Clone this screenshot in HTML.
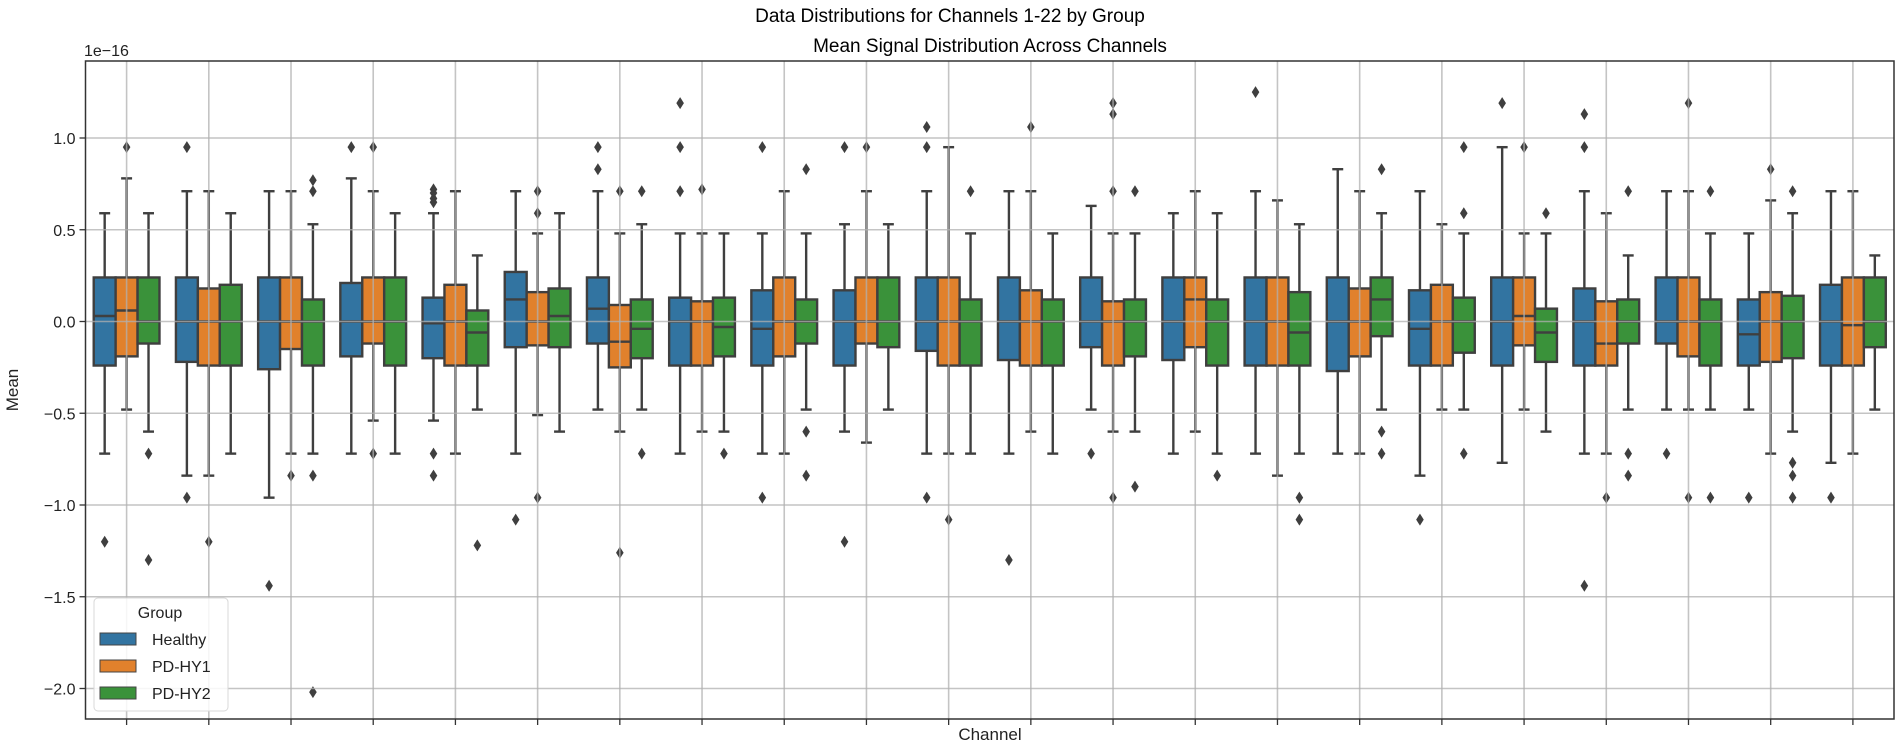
<!DOCTYPE html>
<html><head><meta charset="utf-8"><style>
body{margin:0;background:#fff;}
svg{display:block;font-family:"Liberation Sans","DejaVu Sans",sans-serif;}
</style></head><body>
<svg id="chart" width="1902" height="745" viewBox="0 0 1902 745">
<text x="950" y="22" text-anchor="middle" font-size="19" fill="#000">Data Distributions for Channels 1-22 by Group</text>
<text x="990" y="52" text-anchor="middle" font-size="19" fill="#000">Mean Signal Distribution Across Channels</text>
<text x="84" y="56" font-size="16" fill="#222">1e−16</text>
<text x="990" y="740" text-anchor="middle" font-size="17" fill="#222">Channel</text>
<text transform="translate(18,390) rotate(-90)" text-anchor="middle" font-size="17" fill="#222">Mean</text>
<g id="plot"></g>
</svg>
<script>
const channels=["1","2","3","4","5","6","7","8","9","10","11","12","13","14","15","16","17","18","19","20","21","22"];
const groups=["Healthy","PD-HY1","PD-HY2"];
const yTicks=[1.0,0.5,0.0,-0.5,-1.0,-1.5,-2.0];
const yTickLabels=["1.0","0.5","0.0","−0.5","−1.0","−1.5","−2.0"];

const healthyLo=[-.72,-.84,-.96,-.72,-.54,-.72,-.48,-.72,-.72,-.6,-.72,-.72,-.48,-.72,-.72,-.72,-.84,-.77,-.72,-.48,-.48,-.77];
const healthyQ1=[-.24,-.22,-.26,-.19,-.2,-.14,-.12,-.24,-.24,-.24,-.16,-.21,-.14,-.21,-.24,-.27,-.24,-.24,-.24,-.12,-.24,-.24];
const healthyMed=[.03,0,0,0,-.01,.12,.07,0,-.04,0,0,0,0,0,0,0,-.04,0,0,0,-.07,0];
const healthyQ3=[.24,.24,.24,.21,.13,.27,.24,.13,.17,.17,.24,.24,.24,.24,.24,.24,.17,.24,.18,.24,.12,.2];
const healthyHi=[.59,.71,.71,.78,.59,.71,.71,.48,.48,.53,.71,.71,.63,.59,.71,.83,.71,.95,.71,.71,.48,.71];
const healthyOut=[[-1.2],[.95,-.96],[-1.44],[.95],[.72,.70,.67,.65,-.72,-.84],[-1.08],[.95,.83],[1.19,.95,.71],[.95,-.96],[.95,-1.2],[1.06,.95,-.96],[-1.3],[-.72],[],[1.25],[],[-1.08],[1.19],[1.13,.95,-1.44],[-.72],[-.96],[-.96]];

const hy1Lo=[-.48,-.84,-.72,-.54,-.72,-.51,-.6,-.6,-.72,-.66,-.72,-.6,-.6,-.6,-.84,-.72,-.48,-.48,-.72,-.48,-.72,-.72];
const hy1Q1=[-.19,-.24,-.15,-.12,-.24,-.13,-.25,-.24,-.19,-.12,-.24,-.24,-.24,-.14,-.24,-.19,-.24,-.13,-.24,-.19,-.22,-.24];
const hy1Med=[.06,0,0,0,0,0,-.11,0,0,0,0,0,0,.12,0,0,0,.03,-.12,0,0,-.02];
const hy1Q3=[.24,.18,.24,.24,.2,.16,.09,.11,.24,.24,.24,.17,.11,.24,.24,.18,.2,.24,.11,.24,.16,.24];
const hy1Hi=[.78,.71,.71,.71,.71,.48,.48,.48,.71,.71,.95,.71,.48,.71,.66,.71,.53,.48,.59,.71,.66,.71];
const hy1Out=[[.95],[-1.2],[-.84],[.95,-.72],[],[.71,.59,-.96],[.71,-1.26],[.72],[],[.95],[-1.08],[1.06],[1.19,1.13,.71,-.96],[],[],[],[],[.95],[-.96],[1.19,-.96],[.83],[]];

const hy2Lo=[-.6,-.72,-.72,-.72,-.48,-.6,-.48,-.6,-.48,-.48,-.72,-.72,-.6,-.72,-.72,-.48,-.48,-.6,-.48,-.48,-.6,-.48];
const hy2Q1=[-.12,-.24,-.24,-.24,-.24,-.14,-.2,-.19,-.12,-.14,-.24,-.24,-.19,-.24,-.24,-.08,-.17,-.22,-.12,-.24,-.2,-.14];
const hy2Med=[0,0,0,0,-.06,.03,-.04,-.03,0,0,0,0,0,0,-.06,.12,0,-.06,0,0,0,0];
const hy2Q3=[.24,.2,.12,.24,.06,.18,.12,.13,.12,.24,.12,.12,.12,.12,.16,.24,.13,.07,.12,.12,.14,.24];
const hy2Hi=[.59,.59,.53,.59,.36,.59,.53,.48,.48,.53,.48,.48,.48,.59,.53,.59,.48,.48,.36,.48,.59,.36];
const hy2Out=[[-.72,-1.3],[],[.77,.71,-.84,-2.02],[],[-1.22],[],[.71,-.72],[-.72],[.83,-.6,-.84],[],[.71],[],[.71,-.9],[-.84],[-.96,-1.08],[.83,-.6,-.72],[.95,.59,-.72],[.59],[.71,-.72,-.84],[.71,-.96],[.71,-.77,-.84,-.96],[]];

const colors=["#3274a1","#e1812c","#3a923a"];
const L=85.5,R=1894,T=61,B=719;
const Y0=321.5,PPU=183.5;
function yS(v){return Y0-v*PPU;}
const step=(R-L)/channels.length;
function xS(i){return L+step*(i+0.5);}
const NS="http://www.w3.org/2000/svg";
const plot=document.getElementById('plot');
function mk(tag,attrs,parent){const e=document.createElementNS(NS,tag);for(const k in attrs)e.setAttribute(k,attrs[k]);(parent||plot).appendChild(e);return e;}

const seriesData=[
 [healthyLo,healthyQ1,healthyMed,healthyQ3,healthyHi,healthyOut],
 [hy1Lo,hy1Q1,hy1Med,hy1Q3,hy1Hi,hy1Out],
 [hy2Lo,hy2Q1,hy2Med,hy2Q3,hy2Hi,hy2Out]];
const bw=step*0.8/3;
const ec="#3f3f3f";
seriesData.forEach((s,g)=>{
  const [lo,q1,med,q3,hi,out]=s;
  channels.forEach((c,i)=>{
    const cx=xS(i)+(g-1)*bw;
    const grp=mk('g',{});
    
    
    mk('line',{x1:cx,x2:cx,y1:yS(hi[i]),y2:yS(q3[i]),stroke:ec,'stroke-width':2.4},grp);
    mk('line',{x1:cx,x2:cx,y1:yS(q1[i]),y2:yS(lo[i]),stroke:ec,'stroke-width':2.4},grp);
    mk('line',{x1:cx-bw/4,x2:cx+bw/4,y1:yS(hi[i]),y2:yS(hi[i]),stroke:ec,'stroke-width':2.4},grp);
    mk('line',{x1:cx-bw/4,x2:cx+bw/4,y1:yS(lo[i]),y2:yS(lo[i]),stroke:ec,'stroke-width':2.4},grp);
    mk('rect',{x:cx-bw/2,y:yS(q3[i]),width:bw,height:yS(q1[i])-yS(q3[i]),fill:colors[g],stroke:ec,'stroke-width':2.4},grp);
    mk('line',{x1:cx-bw/2,x2:cx+bw/2,y1:yS(med[i]),y2:yS(med[i]),stroke:ec,'stroke-width':2.4},grp);
    out[i].forEach(v=>{
      const y=yS(v);
      const d=mk('path',{d:`M${cx},${y-6} L${cx+3.8},${y} L${cx},${y+6} L${cx-3.8},${y} Z`,fill:ec},grp);
      
      
    });
  });
});
// grid on top (semi-transparent)
yTicks.forEach((v,k)=>{
  const l=mk('line',{x1:L,x2:R,y1:yS(v),y2:yS(v),stroke:"#b0b0b0",'stroke-width':1.6,'stroke-opacity':0.75});
  
  
  mk('line',{x1:L-6,x2:L,y1:yS(v),y2:yS(v),stroke:"#333",'stroke-width':1.3});
  const t=mk('text',{x:L-10,y:yS(v)+6,'text-anchor':'end','font-size':16,fill:'#222'});
  t.textContent=yTickLabels[k];
  
  
});
channels.forEach((c,i)=>{
  const l=mk('line',{x1:xS(i),x2:xS(i),y1:T,y2:B,stroke:"#b0b0b0",'stroke-width':1.6,'stroke-opacity':0.75});
  
  
  const tk=mk('line',{x1:xS(i),x2:xS(i),y1:B,y2:B+6,stroke:"#333",'stroke-width':1.3});
  
  
});
const fr=mk('rect',{x:L,y:T,width:R-L,height:B-T,fill:'none',stroke:'#333','stroke-width':1.5});


// legend
const lg=mk('g',{});


mk('rect',{x:94,y:598,width:134,height:113,rx:4,fill:'#fff','fill-opacity':0.85,stroke:'#d8d8d8','stroke-width':1},lg);
const lt=mk('text',{x:160,y:618,'text-anchor':'middle','font-size':16,fill:'#222'},lg);
lt.textContent='Group';


groups.forEach((gname,g)=>{
  const yy=633+g*27;
  const e=mk('g',{},lg);
  
  
  mk('rect',{x:100,y:yy,width:36,height:12,fill:colors[g],stroke:'#444','stroke-width':1},e);
  const t=mk('text',{x:152,y:yy+12,'font-size':16,fill:'#222'},e);
  t.textContent=gname;
});
</script>
</body></html>
